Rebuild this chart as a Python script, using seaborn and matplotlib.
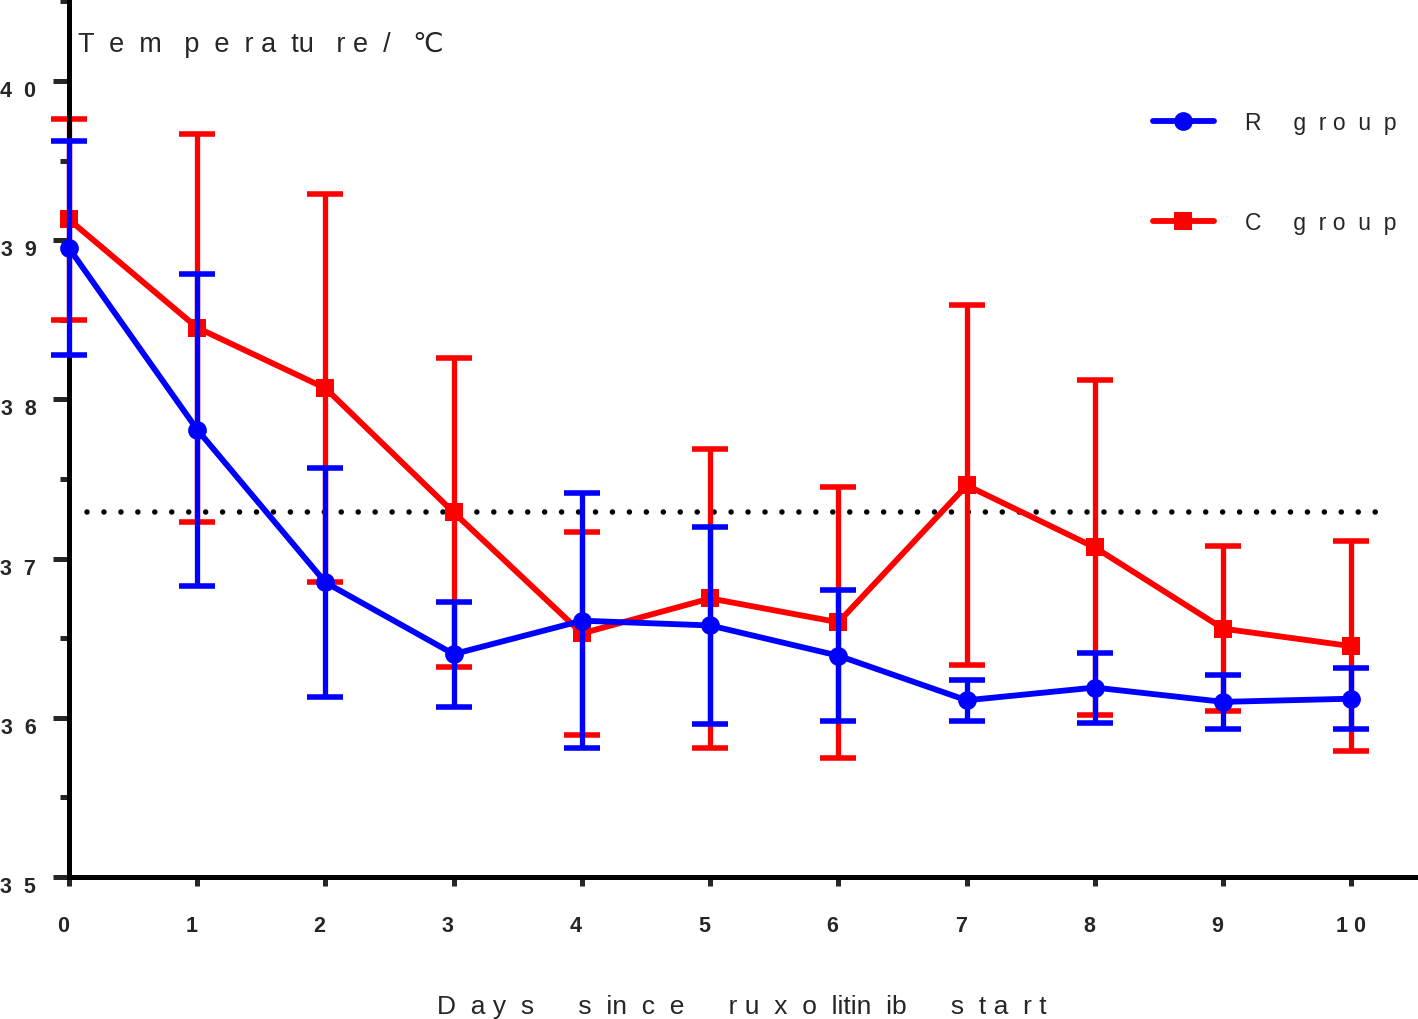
import numpy as np
import pandas as pd
import matplotlib
matplotlib.use("Agg")
import matplotlib.pyplot as plt
import seaborn as sns
from matplotlib.lines import Line2D
from matplotlib.transforms import ScaledTranslation
from matplotlib.ticker import MultipleLocator

# ---- data ----
days = [0, 1, 2, 3, 4, 5, 6, 7, 8, 9, 10]
r_mean = [38.95, 37.81, 36.85, 36.40, 36.61, 36.58, 36.39, 36.11, 36.19, 36.10, 36.12]
r_sd = [0.67, 0.98, 0.72, 0.33, 0.80, 0.62, 0.41, 0.13, 0.22, 0.17, 0.19]
c_mean = [39.13, 38.45, 38.07, 37.29, 36.53, 36.75, 36.60, 37.46, 37.07, 36.56, 36.45]
c_sd = [0.63, 1.22, 1.22, 0.97, 0.635, 0.94, 0.85, 1.13, 1.05, 0.52, 0.66]
ref_x = [0.14, 10.2]
ref_y = 37.29
group_labels = ["R     g  r o  u  p", "C     g  r o  u  p"]
x_ticklabels = ["0", "1", "2", "3", "4", "5", "6", "7", "8", "9", "1 0"]
y_ticks = [35, 36, 37, 38, 39, 40]
y_ticklabels = ["3  5", "3  6", "3  7", "3  8", "3  9", "4  0"]
title_text = "T  e  m   p  e  r a  tu   r e  /   ℃"
xlabel_text = "D  a y  s      s  in  c  e      r u  x  o  litin  ib      s  t a  r t"

sns.set_style("white")
plt.rcParams["font.family"] = ["Liberation Sans", "DejaVu Sans"]

W, H = 1418, 1020
fig = plt.figure(figsize=(W / 100, H / 100), dpi=100)
ax = fig.add_axes([69 / W, (H - 878) / H, 1 - 69 / W, 878 / H])

BLUE = "#0000FF"
RED = "#FF0000"
LW = 4.2
ELW = 3.8

df_r = pd.DataFrame({"day": days, "temp": r_mean})
df_c = pd.DataFrame({"day": days, "temp": c_mean})

# red group (below)
ax.errorbar(days, c_mean, yerr=c_sd, fmt="none", ecolor=RED, elinewidth=ELW,
            capsize=12.7, capthick=4, zorder=2, clip_on=False)
sns.lineplot(data=df_c, x="day", y="temp", color=RED, marker="s", markersize=13.5,
             markeredgewidth=0, linewidth=LW, ax=ax, zorder=2.5, clip_on=False,
             errorbar=None)
# blue group (above)
ax.errorbar(days, r_mean, yerr=r_sd, fmt="none", ecolor=BLUE, elinewidth=ELW,
            capsize=12.7, capthick=4, zorder=3, clip_on=False)
sns.lineplot(data=df_r, x="day", y="temp", color=BLUE, marker="o", markersize=13.5,
             markeredgewidth=0, linewidth=LW, ax=ax, zorder=3.5, clip_on=False,
             errorbar=None)

# reference dotted line
ax.plot(ref_x, [ref_y, ref_y], color="black", linewidth=4,
        linestyle=(0, (0.001, 3.05)), dash_capstyle="round", zorder=1)

ax.set_xlim(0, 10.52)
ax.set_ylim(35, 40.515)

for s in ["top", "right"]:
    ax.spines[s].set_visible(False)
for s in ["left", "bottom"]:
    ax.spines[s].set_linewidth(3.6)
    ax.spines[s].set_color("black")

ax.set_xticks(days)
ax.set_xticklabels(x_ticklabels, fontsize=15.5, fontweight="bold")
ax.set_yticks(y_ticks)
ax.set_yticklabels(y_ticklabels, fontsize=15.5, fontweight="bold")
ax.yaxis.set_minor_locator(MultipleLocator(0.5))
ax.tick_params(axis="x", which="major", direction="out", length=6.5, width=3.6,
               pad=21, bottom=True)
ax.tick_params(axis="y", which="major", direction="out", length=11.5, width=3.6,
               pad=12, left=True)
ax.tick_params(axis="y", which="minor", direction="out", length=6.5, width=3.6,
               left=True)
ax.set_xlabel("")
ax.set_ylabel("")
ax.grid(False)

for lab in ax.get_yticklabels():
    lab.set_transform(lab.get_transform() + ScaledTranslation(0, -5 / 72, fig.dpi_scale_trans))
for lab in ax.get_xticklabels():
    if len(lab.get_text()) == 1:
        lab.set_transform(lab.get_transform() + ScaledTranslation(-4.3 / 72, 0, fig.dpi_scale_trans))

fig.text(78 / W, 1 - 52 / H, title_text, fontsize=19.5, ha="left", va="baseline")
fig.text(437 / W, 6 / H, xlabel_text, fontsize=19, ha="left", va="baseline")

handles = [
    Line2D([], [], color=BLUE, marker="o", markersize=13.5, markeredgewidth=0, linewidth=LW),
    Line2D([], [], color=RED, marker="s", markersize=13.5, markeredgewidth=0, linewidth=LW),
]
leg = fig.legend(handles, group_labels, loc="upper left",
                 bbox_to_anchor=(1153 / W, 1 - 112 / H), frameon=False,
                 fontsize=16.5, handlelength=2.65, handletextpad=1.35,
                 labelspacing=3.36, borderpad=0, borderaxespad=0)

fig.savefig("out.png", dpi=100)
